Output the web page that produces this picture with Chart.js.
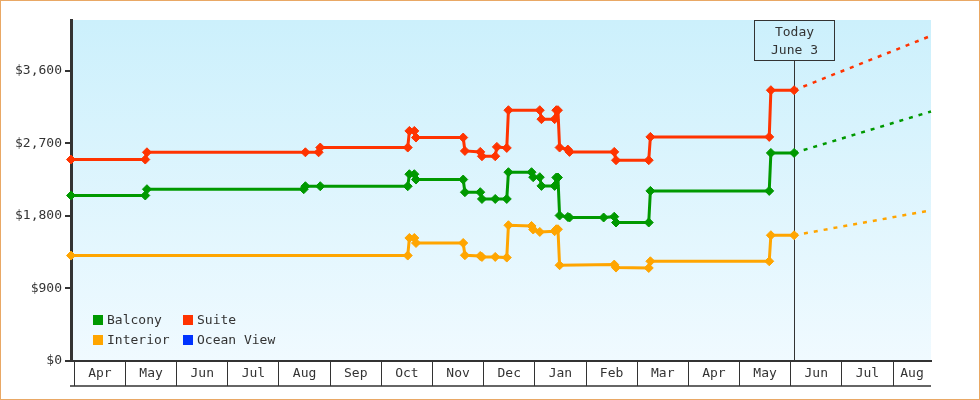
<!DOCTYPE html>
<html>
<head>
<meta charset="utf-8">
<script src="https://cdn.jsdelivr.net/npm/chart.js@4.4.1/dist/chart.umd.min.js"></script>
<style>
  html, body { margin: 0; padding: 0; background: #fff; }
</style>
</head>
<body>
<canvas id="chart" width="980" height="400"></canvas>
<script>
  // month axis, first month = Apr 2023
  const startYear = 2023;
  const startMonth = 4;
  const monthLabels = ["Apr", "May", "Jun", "Jul", "Aug", "Sep", "Oct", "Nov", "Dec", "Jan", "Feb", "Mar", "Apr", "May", "Jun", "Jul", "Aug"];
  const firstDate = "2023-03-30";
  const today = "2024-06-03";
  const todayText = ["Today", "June 3"];
  const forecastEnd = "2024-08-24";

  const yTicks = [0, 900, 1800, 2700, 3600];
  const yMax = 4230;

  const balconyDates = ["2023-03-30", "2023-05-13", "2023-05-14", "2023-08-16", "2023-08-17", "2023-08-26", "2023-10-17", "2023-10-18", "2023-10-21", "2023-10-22", "2023-11-19", "2023-11-20", "2023-11-29", "2023-11-30", "2023-12-08", "2023-12-15", "2023-12-16", "2023-12-30", "2023-12-31", "2024-01-04", "2024-01-05", "2024-01-13", "2024-01-14", "2024-01-15", "2024-01-16", "2024-01-21", "2024-01-22", "2024-02-11", "2024-02-17", "2024-02-18", "2024-03-08", "2024-03-09", "2024-05-19", "2024-05-20", "2024-06-03"];
  const balconyPrices = [2053, 2053, 2131, 2131, 2168, 2168, 2168, 2317, 2317, 2251, 2251, 2094, 2094, 2010, 2010, 2010, 2342, 2342, 2280, 2280, 2172, 2172, 2276, 2276, 1805, 1787, 1780, 1780, 1790, 1718, 1718, 2110, 2110, 2581, 2581];
  const balconyForecast = [2581, 3095];

  const interiorDates = ["2023-03-30", "2023-10-17", "2023-10-18", "2023-10-21", "2023-10-22", "2023-11-19", "2023-11-20", "2023-11-29", "2023-11-30", "2023-12-08", "2023-12-15", "2023-12-16", "2023-12-30", "2023-12-31", "2024-01-04", "2024-01-13", "2024-01-14", "2024-01-15", "2024-01-16", "2024-02-17", "2024-02-18", "2024-03-08", "2024-03-09", "2024-05-19", "2024-05-20", "2024-06-03"];
  const interiorPrices = [1308, 1308, 1526, 1526, 1464, 1464, 1312, 1303, 1291, 1291, 1283, 1684, 1675, 1631, 1601, 1610, 1634, 1634, 1188, 1196, 1159, 1154, 1237, 1237, 1560, 1560];
  const interiorForecast = [1560, 1869];

  const suiteDates = ["2023-03-30", "2023-05-13", "2023-05-14", "2023-08-17", "2023-08-25", "2023-08-26", "2023-10-17", "2023-10-18", "2023-10-21", "2023-10-22", "2023-11-19", "2023-11-20", "2023-11-29", "2023-11-30", "2023-12-08", "2023-12-09", "2023-12-15", "2023-12-16", "2024-01-04", "2024-01-05", "2024-01-13", "2024-01-14", "2024-01-15", "2024-01-16", "2024-01-21", "2024-01-22", "2024-02-17", "2024-02-18", "2024-03-08", "2024-03-09", "2024-05-19", "2024-05-20", "2024-06-03"];
  const suitePrices = [2499, 2499, 2589, 2589, 2589, 2648, 2648, 2854, 2854, 2772, 2772, 2606, 2594, 2540, 2540, 2656, 2643, 3111, 3111, 3000, 3000, 3111, 3111, 2648, 2623, 2594, 2594, 2491, 2491, 2780, 2780, 3359, 3359];
  const suiteForecast = [3359, 4034];

  const oceanViewDates = [];
  const oceanViewPrices = [];

  const FONT = '"DejaVu Sans Mono", "Liberation Mono", monospace';
  const TEXT = "#333";

  // date string -> months since Apr 1 (fraction by days of month)
  function toM(s) {
    const [y, m, d] = s.split("-").map(Number);
    const days = new Date(y, m, 0).getDate();
    return (y - startYear) * 12 + (m - startMonth) + (d - 1) / days;
  }

  function points(dates, prices) {
    return dates.map((d, i) => ({ x: toM(d), y: prices[i] }));
  }

  const series = [
    { label: "Balcony", color: "#009900", dates: balconyDates, prices: balconyPrices, forecast: balconyForecast },
    { label: "Interior", color: "#ffa500", dates: interiorDates, prices: interiorPrices, forecast: interiorForecast },
    { label: "Suite", color: "#ff3300", dates: suiteDates, prices: suitePrices, forecast: suiteForecast },
    { label: "Ocean View", color: "#0033ff", dates: oceanViewDates, prices: oceanViewPrices, forecast: null }
  ];

  const datasets = series.map(s => ({
    label: s.label,
    data: points(s.dates, s.prices),
    borderColor: s.color,
    backgroundColor: s.color,
    borderWidth: 3,
    pointStyle: "rectRot",
    pointRadius: 4.5,
    pointBorderWidth: 1,
    pointBackgroundColor: s.color,
    tension: 0,
    clip: false
  }));

  series.forEach(s => {
    if (!s.forecast) return;
    datasets.push({
      label: s.label + " forecast",
      isForecast: true,
      data: points([today, forecastEnd], s.forecast),
      borderColor: s.color,
      borderWidth: 2.5,
      borderDash: [4, 6],
      pointRadius: 0,
      tension: 0,
      clip: false
    });
  });

  // ticks: month boundaries (grid) + month middles (labels)
  const xMin = toM(firstDate);
  const xMax = toM(forecastEnd);
  const monthTicks = [];
  monthLabels.forEach((name, i) => {
    monthTicks.push({ value: i });
    const mid = (Math.max(i, xMin) + Math.min(i + 1, xMax)) / 2;
    monthTicks.push({ value: mid, name: name });
  });

  const decor = {
    id: "decor",
    beforeDraw(chart) {
      const { ctx, chartArea: a, width, height } = chart;
      ctx.save();
      ctx.fillStyle = "#fff";
      ctx.fillRect(0, 0, width, height);
      const g = ctx.createLinearGradient(0, a.top, 0, a.bottom);
      g.addColorStop(0, "#ccf0fc");
      g.addColorStop(1, "#f0faff");
      ctx.fillStyle = g;
      ctx.fillRect(a.left, a.top, a.right - a.left, a.bottom - a.top);
      ctx.strokeStyle = "#e9a865";
      ctx.lineWidth = 1;
      ctx.strokeRect(0.5, 0.5, width - 1, height - 1);
      // bottom edge of month boxes
      ctx.strokeStyle = TEXT;
      ctx.lineWidth = 1.5;
      ctx.beginPath();
      ctx.moveTo(a.left - 1, Math.round(a.bottom) + 25);
      ctx.lineTo(a.right, Math.round(a.bottom) + 25);
      ctx.stroke();
      ctx.restore();
    },
    beforeDatasetsDraw(chart) {
      const { ctx, chartArea: a } = chart;
      const x = Math.round(chart.scales.x.getPixelForValue(toM(today))) + 0.5;
      ctx.save();
      ctx.strokeStyle = TEXT;
      ctx.lineWidth = 1;
      ctx.strokeRect(x - 40, a.top + 0.5, 80, 40);
      ctx.beginPath();
      ctx.moveTo(x, a.top + 40.5);
      ctx.lineTo(x, a.bottom);
      ctx.stroke();
      ctx.fillStyle = TEXT;
      ctx.font = "13px " + FONT;
      ctx.textAlign = "center";
      ctx.textBaseline = "middle";
      ctx.fillText(todayText[0], x, a.top + 13);
      ctx.fillText(todayText[1], x, a.top + 31);
      ctx.restore();
    },
    afterDraw(chart) {
      const { ctx, chartArea: a } = chart;
      const items = chart.data.datasets.filter(d => !d.isForecast);
      ctx.save();
      ctx.font = "13px " + FONT;
      ctx.textBaseline = "middle";
      items.forEach((d, i) => {
        const col = Math.floor(i / 2);
        const row = i % 2;
        const x = a.left + 22 + col * 90;
        const y = a.bottom - 46 + row * 20;
        ctx.fillStyle = d.borderColor;
        ctx.fillRect(x, y, 10, 10);
        ctx.fillStyle = TEXT;
        ctx.fillText(d.label, x + 14, y + 5.5);
      });
      ctx.restore();
    }
  };

  new Chart(document.getElementById("chart"), {
    type: "line",
    data: { datasets: datasets },
    plugins: [decor],
    options: {
      responsive: false,
      animation: false,
      devicePixelRatio: 1,
      layout: { padding: { top: 20, right: 49, left: 0, bottom: 0 } },
      plugins: {
        legend: { display: false },
        tooltip: { enabled: false }
      },
      scales: {
        x: {
          type: "linear",
          min: xMin,
          max: xMax,
          afterBuildTicks: scale => { scale.ticks = monthTicks.map(t => ({ ...t })); },
          afterFit: scale => { scale.height = 39; },
          border: { color: TEXT, width: 2 },
          grid: {
            drawOnChartArea: false,
            tickLength: 25,
            lineWidth: 1,
            color: c => (c.tick && c.tick.name ? "rgba(0,0,0,0)" : TEXT)
          },
          ticks: {
            autoSkip: false,
            maxRotation: 0,
            minRotation: 0,
            padding: -20,
            color: TEXT,
            font: { family: FONT, size: 13 },
            callback: (v, i, ticks) => ticks[i].name || ""
          }
        },
        y: {
          min: 0,
          max: yMax,
          afterBuildTicks: scale => { scale.ticks = yTicks.map(v => ({ value: v })); },
          afterFit: scale => { scale.width = 71; },
          border: { color: TEXT, width: 3 },
          grid: { drawOnChartArea: false, tickLength: 6, lineWidth: 2, color: TEXT },
          ticks: {
            padding: 3,
            color: TEXT,
            font: { family: FONT, size: 13 },
            callback: v => "$" + v.toLocaleString("en-US")
          }
        }
      }
    }
  });
</script>
</body>
</html>
